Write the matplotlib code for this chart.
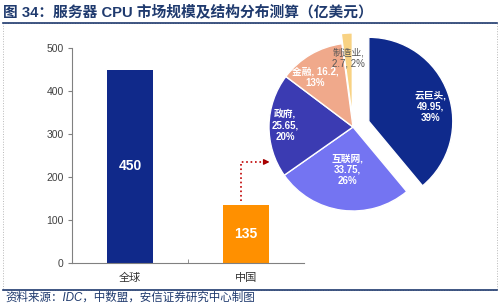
import numpy as np
import matplotlib
matplotlib.use('Agg')
import matplotlib.pyplot as plt
from matplotlib.lines import Line2D
from matplotlib.patches import Rectangle

plt.rcParams['font.family'] = ['Liberation Sans', 'Noto Sans CJK SC', 'DejaVu Sans']

# data
bar_categories = ['全球', '中国']
bar_values = [450, 135]
pie_names = ['云巨头', '互联网', '政府', '金融', '制造业']
pie_values = [49.95, 33.75, 25.65, 16.2, 2.7]
pie_pcts = ['39%', '26%', '20%', '13%', '2%']

NAVY = '#10298a'
ORANGE = '#ff9000'
TITLE_C = '#1f3a6e'
bar_colors = [NAVY, ORANGE]
pie_colors = ['#0f2a8c', '#7474f2', '#3b3bb2', '#f0a98b', '#f8d283']
pie_explode = [0.2, 0, 0, 0, 0.12]
label_dist = [0.75, 0.51, 0.81, 0.74, 0.70]
label_turn = [-5, 0, 0, 7, 0]
label_colors = ['white', 'white', 'white', 'white', '#555555']
label_fmt = ['{n},\n{v},\n{p}', '{n},\n{v},\n{p}', '{n},\n{v},\n{p}',
             '{n}, {v},\n{p}', '{n},\n{v}, {p}']

W, H = 500, 306
fig = plt.figure(figsize=(W / 100, H / 100), dpi=100)
fig.patch.set_facecolor('white')

def fx(px):
    return px / W

def fy(py):
    return 1 - py / H

# title, rules, border, source
fig.text(fx(3), fy(12), '图 34：服务器 CPU 市场规模及结构分布测算（亿美元）',
         fontsize=10.6, fontweight='bold', color=TITLE_C, va='center', ha='left')
fig.add_artist(Line2D([fx(3), fx(497)], [fy(23), fy(23)], color=TITLE_C, lw=1.2))
fig.add_artist(Line2D([fx(3), fx(497)], [fy(290), fy(290)], color=TITLE_C, lw=1.2))
fig.add_artist(Rectangle((fx(3), fy(290)), fx(494), (290 - 23) / H, fill=False,
                         edgecolor='#b8b8b8', lw=0.7, linestyle=':'))
fig.text(fx(5), fy(298), '资料来源：IDC，中数盟，安信证券研究中心制图',
         fontsize=8.3, color=TITLE_C, va='center', ha='left', style='italic')

# bar chart
ax = fig.add_axes([fx(72), fy(263), fx(304) - fx(72), fy(48) - fy(263)])
x = np.arange(len(bar_categories))
ax.bar(x, bar_values, width=0.4, color=bar_colors, zorder=2)
for xi, v in zip(x, bar_values):
    ax.text(xi, v / 2, str(v), ha='center', va='center', color='white',
            fontsize=10, fontweight='bold')
ax.set_xlim(-0.5, 1.5)
ax.set_ylim(0, 500)
ax.set_yticks(range(0, 501, 100))
ax.set_xticks(x)
ax.set_xticklabels(bar_categories)
ax.set_xticks([0.5], minor=True)
ax.tick_params(axis='x', which='major', length=0, pad=7, labelsize=8, labelcolor='#333333')
ax.tick_params(axis='x', which='minor', length=3, direction='in', color='#808080')
ax.tick_params(axis='y', length=3, direction='out', color='#808080', labelsize=7.5,
               labelcolor='#404040', pad=3)
for s in ['top', 'right']:
    ax.spines[s].set_visible(False)
for s in ['left', 'bottom']:
    ax.spines[s].set_color('#808080')
    ax.spines[s].set_linewidth(0.8)

# pie chart
R = 84
cx, cy = 353, 127
pax = fig.add_axes([fx(cx - 1.3 * R), fy(cy + 1.3 * R), 2.6 * R / W, 2.6 * R / H])
wedges, _ = pax.pie(pie_values, colors=pie_colors, explode=pie_explode, startangle=90,
                    counterclock=False, wedgeprops=dict(edgecolor='white', linewidth=1))
pax.set_xlim(-1.3, 1.3)
pax.set_ylim(-1.3, 1.3)
pax.set_aspect('auto')
for i, w in enumerate(wedges):
    ang = np.deg2rad((w.theta1 + w.theta2) / 2 + label_turn[i])
    r = label_dist[i] + pie_explode[i]
    txt = label_fmt[i].format(n=pie_names[i], v=f'{pie_values[i]:g}', p=pie_pcts[i])
    pax.text(r * np.cos(ang), r * np.sin(ang), txt, ha='center', va='center',
             color=label_colors[i], fontsize=7, linespacing=1.15,
             fontweight='bold' if label_colors[i] == 'white' else 'normal')

# dotted connector from China bar to pie
fig.canvas.draw()
inv = fig.transFigure.inverted()
p0 = inv.transform(ax.transData.transform((0.96, bar_values[1] + 10)))
p1 = inv.transform(ax.transData.transform((0.96, 235)))
tip = inv.transform(pax.transData.transform((-0.96, 0)))
fig.add_artist(Line2D([p0[0], p1[0], tip[0] - 0.012], [p0[1], p1[1], p1[1]],
                      color='#c00000', lw=1.2, linestyle=':'))
ax.annotate('', xy=(tip[0], p1[1]), xycoords='figure fraction',
            xytext=(tip[0] - 0.02, p1[1]), textcoords='figure fraction',
            arrowprops=dict(arrowstyle='-|>', color='#a00000', lw=1, mutation_scale=8),
            annotation_clip=False)

fig.savefig('out.png', dpi=100, facecolor='white')
